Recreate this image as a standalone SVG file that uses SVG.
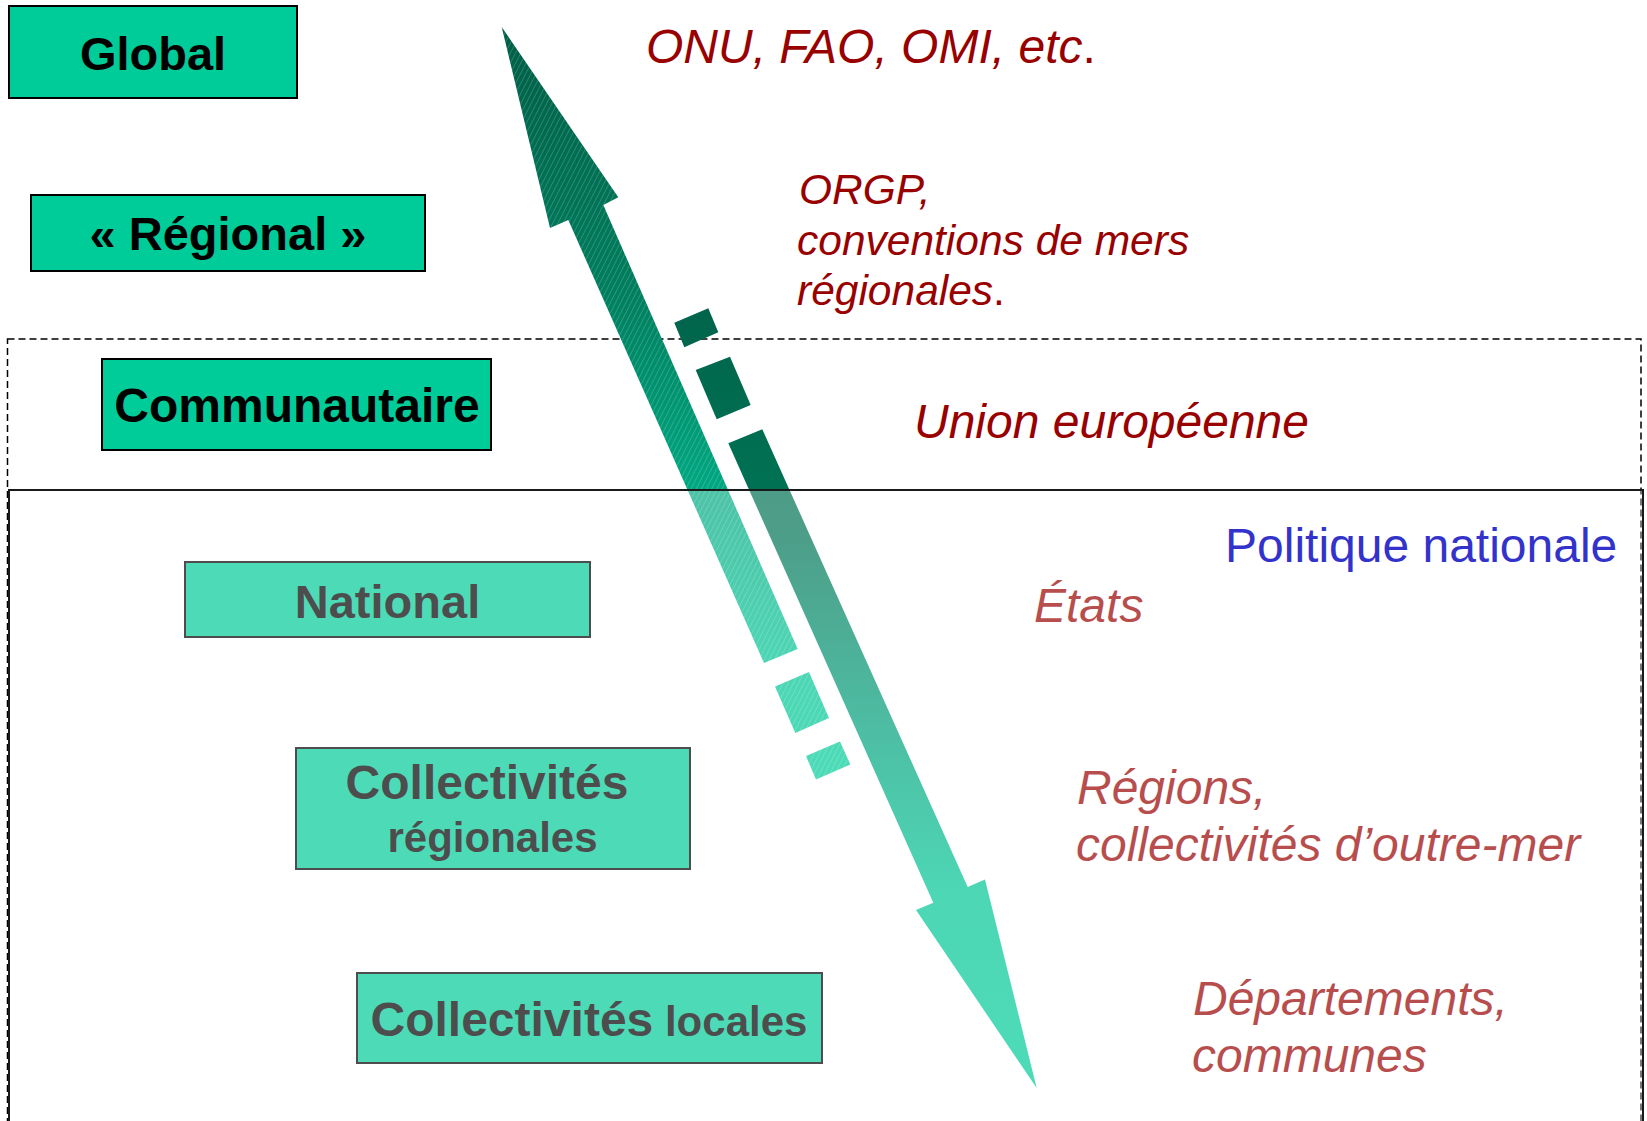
<svg xmlns="http://www.w3.org/2000/svg" width="1647" height="1121" viewBox="0 0 1647 1121">
  <style>
    .box { fill: #00cc99; stroke: #000000; stroke-width: 2; }
    .lbl { font-family: "Liberation Sans", Arial, sans-serif; font-weight: bold; fill: #000000; text-anchor: middle; }
    .org { font-family: "Liberation Sans", Arial, sans-serif; font-style: italic; fill: #990000; }
    .up { font-style: normal; }
    .frame-dash { fill: none; stroke: #000000; stroke-width: 1.5; stroke-dasharray: 7 4; }
    .frame { fill: none; stroke: #1a1a1a; stroke-width: 2; }
  </style>
  <defs>
    <!-- upward arrow: dark at the tip, light at its tail -->
    <linearGradient id="gradUp" gradientUnits="userSpaceOnUse" x1="0" y1="27" x2="0" y2="780">
      <stop offset="0" stop-color="#005e46"/>
      <stop offset="0.35" stop-color="#007e5e"/>
      <stop offset="0.615" stop-color="#00a881"/>
      <stop offset="0.83" stop-color="#00c393"/>
      <stop offset="1" stop-color="#00cc99"/>
    </linearGradient>
    <!-- downward arrow: dark at its tail, light at the tip -->
    <linearGradient id="gradDown" gradientUnits="userSpaceOnUse" x1="0" y1="305" x2="0" y2="1088">
      <stop offset="0" stop-color="#00644b"/>
      <stop offset="0.3" stop-color="#007556"/>
      <stop offset="0.5" stop-color="#019a76"/>
      <stop offset="0.75" stop-color="#00c695"/>
      <stop offset="1" stop-color="#00cc99"/>
    </linearGradient>
    <!-- fine upward-diagonal hatch -->
    <pattern id="hatch" patternUnits="userSpaceOnUse" width="4.6" height="4.6" patternTransform="rotate(27)">
      <rect x="0" y="0" width="0.7" height="4.6" fill="#ffffff" fill-opacity="0.24"/>
    </pattern>
  </defs>

  <!-- community-level frame (dashed) -->
  <rect class="frame-dash" x="7.5" y="339" width="1633.5" height="800"/>

  <!-- connectors: the two opposing scale arrows -->
  <g id="connectors">
    <g id="arrow-up">
      <polygon fill="url(#gradUp)" points="501.7,27 618.3,197.3 603.3,205 797.7,649 764,663 568.3,220 550,228"/>
      <polygon fill="url(#gradUp)" points="775,686.4 809,672 829,718 795.3,733"/>
      <polygon fill="url(#gradUp)" points="806,756 840,741.6 850.3,764.4 816,779.6"/>
      <polygon fill="url(#hatch)" points="501.7,27 618.3,197.3 603.3,205 797.7,649 764,663 568.3,220 550,228"/>
      <polygon fill="url(#hatch)" points="775,686.4 809,672 829,718 795.3,733"/>
      <polygon fill="url(#hatch)" points="806,756 840,741.6 850.3,764.4 816,779.6"/>
    </g>
    <g id="arrow-down" fill="url(#gradDown)">
      <polygon points="674.3,322.7 708.3,308.3 718.3,332.3 684.3,347.3"/>
      <polygon points="695.7,370 730,356.7 750.7,405 716.7,419.3"/>
      <polygon points="728.3,443.3 762.3,429.3 967.7,887 985,879.5 1036.7,1088 916,910 933.3,902.7"/>
    </g>
  </g>

  <!-- levels above the national frame -->
  <g id="node-global">
    <rect class="box" x="9" y="6" width="288" height="92"/>
    <text class="lbl" x="153" y="70" font-size="47">Global</text>
  </g>
  <g id="node-regional">
    <rect class="box" x="31" y="195" width="394" height="76"/>
    <text class="lbl" x="228" y="250" font-size="47">« Régional »</text>
  </g>
  <g id="node-communautaire">
    <rect class="box" x="102" y="359" width="389" height="91"/>
    <text class="lbl" x="297" y="422" font-size="48">Communautaire</text>
  </g>

  <g id="actors-upper">
    <text class="org" x="646" y="63" font-size="48">ONU, FAO, OMI, etc<tspan class="up">.</tspan></text>
    <text class="org" font-size="42.5">
      <tspan x="799" y="204">ORGP,</tspan>
      <tspan x="797" y="255">conventions de mers</tspan>
      <tspan x="797" y="305">régionales<tspan class="up">.</tspan></tspan>
    </text>
    <text class="org" x="914" y="438" font-size="48">Union européenne</text>
  </g>

  <!-- levels inside the national frame -->
  <g id="node-national">
    <rect class="box" x="185" y="562" width="405" height="75"/>
    <text class="lbl" x="387.5" y="618" font-size="47">National</text>
  </g>
  <g id="node-collectivites-regionales">
    <rect class="box" x="296" y="748" width="394" height="121"/>
    <text class="lbl" x="487" y="799" font-size="48">Collectivités</text>
    <text class="lbl" x="492.5" y="852" font-size="42">régionales</text>
  </g>
  <g id="node-collectivites-locales">
    <rect class="box" x="357" y="973" width="465" height="90"/>
    <text class="lbl" x="370.5" y="1035.5" font-size="48" style="text-anchor:start">Collectivités<tspan font-size="42"> locales</tspan></text>
  </g>

  <g id="actors-lower">
    <text class="org" x="1034" y="622" font-size="48">États</text>
    <text class="org" font-size="48">
      <tspan x="1077" y="804">Régions,</tspan>
      <tspan x="1076" y="861">collectivités d’outre-mer</tspan>
    </text>
    <text class="org" font-size="48">
      <tspan x="1193" y="1015">Départements,</tspan>
      <tspan x="1192" y="1072">communes</tspan>
    </text>
  </g>

  <!-- national frame: translucent veil over its content, then its border -->
  <rect x="9" y="490" width="1634" height="650" fill="#ffffff" fill-opacity="0.3"/>
  <rect class="frame" x="9" y="490" width="1634" height="650"/>
  <text x="1225" y="562" font-family="'Liberation Sans', Arial, sans-serif" font-size="48" fill="#3333cc">Politique nationale</text>
</svg>
